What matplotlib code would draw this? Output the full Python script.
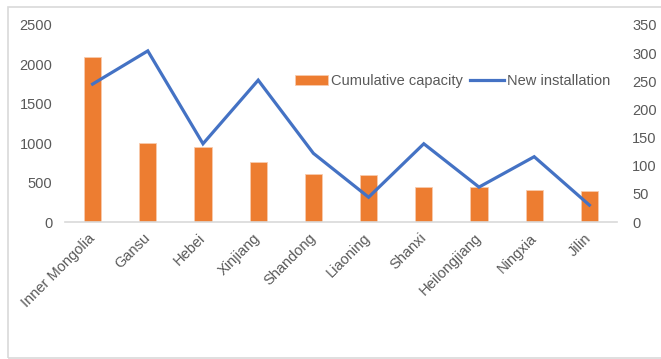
import matplotlib.pyplot as plt
from matplotlib.patches import Rectangle

provinces = ['Inner Mongolia', 'Gansu', 'Hebei', 'Xinjiang', 'Shandong',
             'Liaoning', 'Shanxi', 'Heilongjiang', 'Ningxia', 'Jilin']
cumulative = [2090, 1000, 955, 765, 615, 600, 445, 440, 405, 398]
new_install = [245, 304, 139, 252, 122, 44, 139, 62, 116, 30]

plt.rcParams['font.family'] = ['Liberation Sans', 'DejaVu Sans']
text_grey = '#595959'
orange = '#ED7D31'
blue = '#4472C4'
fs = 10.5

fig = plt.figure(figsize=(6.61, 3.59), dpi=100)
# light grey frame around the chart
fig.patches.append(Rectangle((8 / 661, 1 / 359), 1.0, 351 / 359,
                             transform=fig.transFigure, fill=False,
                             edgecolor='#d9d9d9', linewidth=1.2))

ax = fig.add_axes([65 / 661, 1 - 222 / 359, 552 / 661, 197 / 359])
x = range(len(provinces))
bars = ax.bar(x, cumulative, width=0.31, color=orange,
              edgecolor='#f8cbad', linewidth=0.6, label='Cumulative capacity')
ax.set_xlim(-0.5, len(provinces) - 0.5)
ax.set_ylim(0, 2500)
ax.set_yticks(range(0, 2501, 500))

ax2 = ax.twinx()
line, = ax2.plot(x, new_install, color=blue, linewidth=2.3,
                 solid_joinstyle='miter', label='New installation')
ax2.set_ylim(0, 350)
ax2.set_yticks(range(0, 351, 50))

for a in (ax, ax2):
    for side in ('top', 'left', 'right', 'bottom'):
        a.spines[side].set_visible(False)
    a.tick_params(length=0, labelsize=fs, labelcolor=text_grey)
ax.spines['bottom'].set_visible(True)
ax.spines['bottom'].set_color('#d9d9d9')
ax.spines['bottom'].set_linewidth(1.2)
ax.tick_params(axis='y', pad=9)
ax2.tick_params(axis='y', pad=11)

ax.set_xticks(list(x))
ax.set_xticklabels(provinces, rotation=45, ha='right', va='center',
                   rotation_mode='anchor')
ax.tick_params(axis='x', pad=10)

ax2.legend([bars, line], ['Cumulative capacity', 'New installation'],
           loc='center right', bbox_to_anchor=(1.011, 0.715), ncol=2,
           frameon=False, fontsize=fs, labelcolor=text_grey,
           handlelength=2.3, handletextpad=0.2, columnspacing=0.5)

fig.savefig('out.png', dpi=100, facecolor='white')
